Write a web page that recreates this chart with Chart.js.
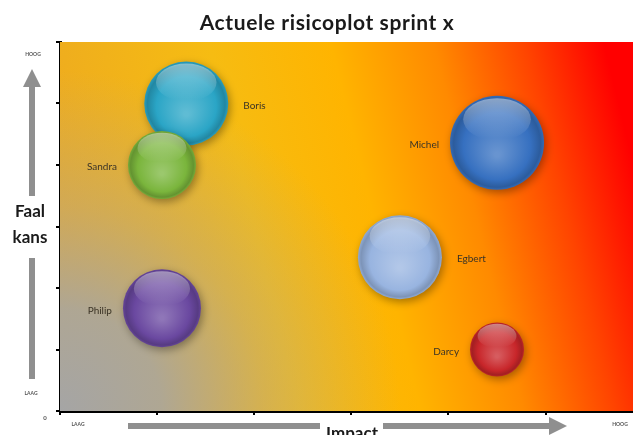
<!DOCTYPE html>
<html><head><meta charset="utf-8">
<script src="https://cdn.jsdelivr.net/npm/chart.js@4/dist/chart.umd.min.js"></script>
<style>html,body{margin:0;padding:0;background:#fff}#wrap{width:633px;height:435px;position:relative}</style>
</head><body><div id="wrap"><canvas id="c" width="633" height="435"></canvas></div>
<script>
const names = ["Boris","Sandra","Philip","Michel","Egbert","Darcy"];
const impact = [1.3,1.05,1.05,4.5,3.5,4.5];
const faalkans = [5.0,4.0,1.67,4.36,2.5,1.0];
const size = [42,34,39,47,42,27];
const bubbleColors = ["#2aa5c6","#7ab53c","#6a48a0","#3670c0","#98b4e0","#c8262a"];
const labelSide = ["right","left","left","left","right","left"];
const title = "Actuele risicoplot sprint x";
const yAxisTitle = ["Faal","kans"];
const xAxisTitle = "Impact";
const lowLabel = "LAAG", highLabel = "HOOG", originLabel = "0";

function shade(hex, f){
  const n=parseInt(hex.slice(1),16);let r=n>>16,g=(n>>8)&255,b=n&255;
  if(f>=0){r=r+(255-r)*f;g=g+(255-g)*f;b=b+(255-b)*f;}else{r=r*(1+f);g=g*(1+f);b=b*(1+f);}
  return `rgb(${Math.round(r)},${Math.round(g)},${Math.round(b)})`;
}

const bgPlugin={id:'bg',beforeDatasetsDraw(ch){
  const {ctx,chartArea:a}=ch;ctx.save();
  const lg=ctx.createLinearGradient(a.left,a.top+260,a.right,a.top+120);
  lg.addColorStop(0,'#eca822');lg.addColorStop(0.35,'#f6bc12');lg.addColorStop(0.55,'#ffb400');
  lg.addColorStop(0.72,'#ff8a00');lg.addColorStop(0.87,'#ff4400');lg.addColorStop(1,'#ff0000');
  ctx.fillStyle=lg;ctx.fillRect(a.left,a.top,a.right-a.left,a.bottom-a.top);
  const rg=ctx.createRadialGradient(a.left,a.bottom,0,a.left,a.bottom,340);
  rg.addColorStop(0,'rgba(165,165,165,1)');rg.addColorStop(0.3,'rgba(168,166,160,0.9)');
  rg.addColorStop(0.6,'rgba(175,168,150,0.45)');rg.addColorStop(1,'rgba(180,170,140,0)');
  ctx.fillStyle=rg;ctx.fillRect(a.left,a.top,a.right-a.left,a.bottom-a.top);
  ctx.restore();
  ctx.save();ctx.shadowColor='rgba(0,0,0,0.35)';ctx.shadowBlur=8;ctx.shadowOffsetY=3;ctx.shadowOffsetX=2;
}, afterDatasetsDraw(ch){
  const ctx=ch.ctx;ctx.restore();
  const meta=ch.getDatasetMeta(0);
  meta.data.forEach((el,i)=>{
    const r=size[i];ctx.save();
    const g=ctx.createLinearGradient(0,el.y-r*0.95,0,el.y-r*0.1);
    g.addColorStop(0,'rgba(255,255,255,0.45)');g.addColorStop(1,'rgba(255,255,255,0)');
    ctx.fillStyle=g;ctx.beginPath();ctx.ellipse(el.x,el.y-r*0.5,r*0.72,r*0.45,0,0,Math.PI*2);ctx.fill();
    ctx.fillStyle='#3b3426';ctx.font='10px Lato, sans-serif';ctx.textBaseline='middle';
    if(labelSide[i]==='right'){ctx.textAlign='left';ctx.fillText(names[i],el.x+r+15,el.y+2);}
    else{ctx.textAlign='right';ctx.fillText(names[i],el.x-r-11,el.y+2);}
    ctx.restore();
  });
}};

function arrowV(ctx,x,yTop,yBot,gapA,gapB){
  ctx.fillStyle='#8f8f8f';
  ctx.fillRect(x-3,yTop+16,6,gapA-(yTop+16));
  ctx.fillRect(x-3,gapB,6,yBot-gapB);
  ctx.beginPath();ctx.moveTo(x,yTop);ctx.lineTo(x+9,yTop+18);ctx.lineTo(x-9,yTop+18);ctx.closePath();ctx.fill();
}
function arrowH(ctx,y,xL,xR,gapA,gapB){
  ctx.fillStyle='#8f8f8f';
  ctx.fillRect(xL,y-3,gapA-xL,6);
  ctx.fillRect(gapB,y-3,xR-16-gapB,6);
  ctx.beginPath();ctx.moveTo(xR,y);ctx.lineTo(xR-18,y-9);ctx.lineTo(xR-18,y+9);ctx.closePath();ctx.fill();
}

const decoPlugin={id:'deco',afterDraw(ch){
  const ctx=ch.ctx;ctx.save();
  ctx.fillStyle='#1a1a1a';ctx.textAlign='center';ctx.textBaseline='middle';
  ctx.font='bold 21px Lato, sans-serif';
  try{ctx.letterSpacing='0.6px';}catch(e){}
  ctx.fillText(title,327,23);
  try{ctx.letterSpacing='0px';}catch(e){}
  arrowV(ctx,32,69,379,196,258);
  ctx.fillStyle='#1a1a1a';ctx.font='bold 17px Lato, sans-serif';
  ctx.fillText(yAxisTitle[0],30,212);ctx.fillText(yAxisTitle[1],30,238);
  arrowH(ctx,426,128,567,320,383);
  ctx.fillStyle='#1a1a1a';ctx.font='bold 17px Lato, sans-serif';ctx.fillText(xAxisTitle,352,434);
  ctx.fillStyle='#555';ctx.font='bold 5px Lato, sans-serif';
  ctx.fillText(highLabel,33,54);ctx.fillText(lowLabel,31,393);
  ctx.fillText(lowLabel,78,424);ctx.fillText(highLabel,620,424);
  ctx.font='bold 6px Lato, sans-serif';ctx.fillText(originLabel,45,418);
  ctx.restore();
}};

new Chart(document.getElementById('c'),{
  type:'bubble',
  data:{datasets:[{
    data:names.map((n,i)=>({x:impact[i],y:faalkans[i],r:size[i]})),
    borderWidth:0,
    backgroundColor(c){
      const i=c.dataIndex,col=bubbleColors[i]||'#888';
      const ch=c.chart;
      if(c.type!=='data'||!ch.scales||!ch.scales.x||!ch.scales.y) return col;
      const x=ch.scales.x.getPixelForValue(impact[i]),y=ch.scales.y.getPixelForValue(faalkans[i]),r=size[i];
      if(!isFinite(x)||!isFinite(y)) return col;
      const g=ch.ctx.createRadialGradient(x,y+r*0.25,r*0.05,x,y,r);
      g.addColorStop(0,shade(col,0.25));g.addColorStop(0.7,col);g.addColorStop(0.92,shade(col,-0.18));g.addColorStop(1,shade(col,-0.05));
      return g;
    }
  }]},
  options:{
    responsive:false,animation:false,devicePixelRatio:1,
    layout:{autoPadding:false,padding:{top:42,left:0,right:0,bottom:0}},
    plugins:{legend:{display:false},tooltip:{enabled:false},title:{display:false}},
    scales:{
      x:{type:'linear',min:0,max:5.9,
        ticks:{stepSize:1,display:false},
        afterBuildTicks(s){s.ticks=s.ticks.filter(t=>Number.isInteger(t.value));},
        grid:{drawOnChartArea:false,drawTicks:true,tickLength:4,color:'#000',lineWidth:2},
        border:{display:true,color:'#000',width:3},
        afterFit(s){s.height=24;}},
      y:{type:'linear',min:0,max:6,
        ticks:{stepSize:1,display:false},
        grid:{drawOnChartArea:false,drawTicks:true,tickLength:4,color:'#000',lineWidth:2},
        border:{display:true,color:'#000',width:3},
        afterFit(s){s.width=60;}}
    }
  },
  plugins:[bgPlugin,decoPlugin]
});
</script></body></html>
